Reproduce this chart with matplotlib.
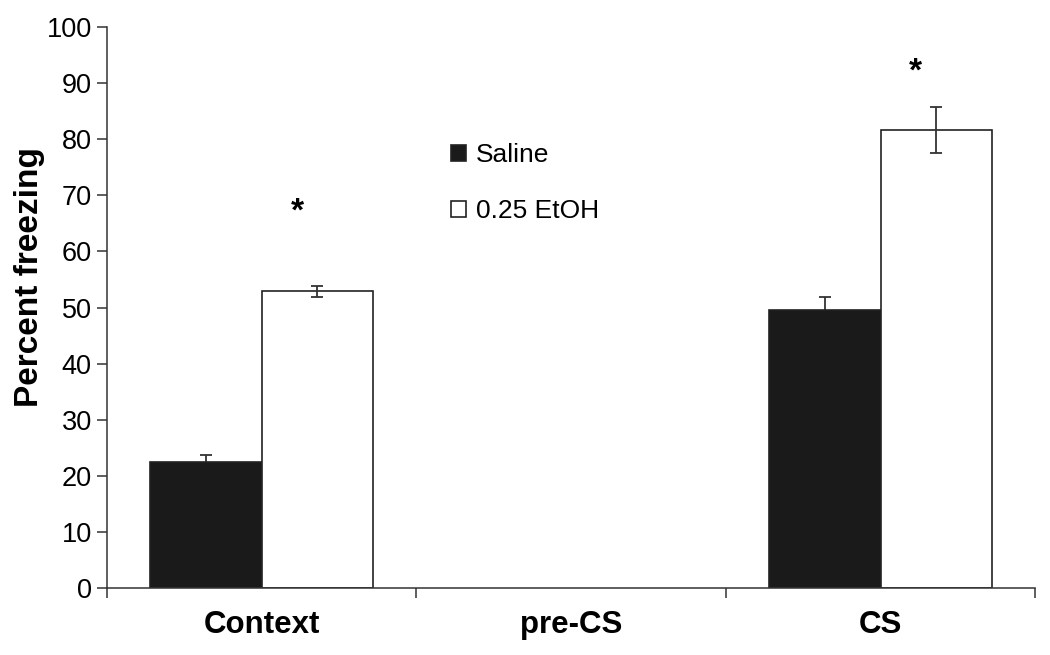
import numpy as np
import matplotlib
matplotlib.use("Agg")
import matplotlib.pyplot as plt

plt.rcParams['font.family'] = ['Liberation Sans', 'DejaVu Sans']

categories = ["Context", "pre-CS", "CS"]
saline = [22.5, np.nan, 49.6]
saline_err = [1.2, np.nan, 2.3]
etoh = [52.9, np.nan, 81.7]
etoh_err = [1.0, np.nan, 4.1]
stars_y = [68, None, 93]

fig = plt.figure(figsize=(10.5, 6.55), dpi=100)
ax = fig.add_axes([0.102, 0.102, 0.884, 0.857])

x = np.arange(len(categories))
w = 0.36
# saline error bars sit under the black bars so only the top half shows
ax.errorbar(x - w/2, saline, yerr=saline_err, fmt='none', ecolor='#333333', elinewidth=1.3,
            capsize=4.5, capthick=1.3, zorder=1)
ax.bar(x - w/2, saline, w, color='#1a1a1a', edgecolor='#222222', linewidth=1.2, label='Saline', zorder=2)
ax.bar(x + w/2, etoh, w, color='white', edgecolor='#222222', linewidth=1.2, label='0.25 EtOH', zorder=2)
ax.errorbar(x + w/2, etoh, yerr=etoh_err, fmt='none', ecolor='#333333', elinewidth=1.3,
            capsize=4.5, capthick=1.3, zorder=3)

for i, sy in enumerate(stars_y):
    if sy is not None:
        ax.text(x[i] + 0.114, sy - 1.0, '*', ha='center', va='center', fontsize=24, fontweight='bold')

ax.set_xlim(-0.5, 2.5)
ax.set_ylim(0, 100)
ax.set_yticks(np.arange(0, 101, 10))
ax.set_xticks(np.arange(-0.5, 2.6, 1.0))
ax.set_xticklabels([])
ax.set_xticks(x, minor=True)
ax.set_xticklabels(categories, minor=True, fontsize=22.5, fontweight='bold')
ax.tick_params(axis='x', which='minor', length=0, pad=16)
ax.tick_params(axis='x', which='major', length=7, width=1.1, color='#333333', direction='out')
ax.tick_params(axis='y', labelsize=19.5, length=7, width=1.1, color='#333333', pad=4)

for s in ['top', 'right']:
    ax.spines[s].set_visible(False)
for s in ['left', 'bottom']:
    ax.spines[s].set_linewidth(1.1)
    ax.spines[s].set_color('#333333')

ax.set_ylabel('Percent freezing', fontsize=24, fontweight='bold')
ax.yaxis.set_label_coords(-0.067, 0.554)

ax.legend(loc='upper left', bbox_to_anchor=(0.345, 0.835), frameon=False, fontsize=19,
          handlelength=0.55, handleheight=0.55, handletextpad=0.4, labelspacing=1.2)

fig.savefig('out.png', dpi=100)
